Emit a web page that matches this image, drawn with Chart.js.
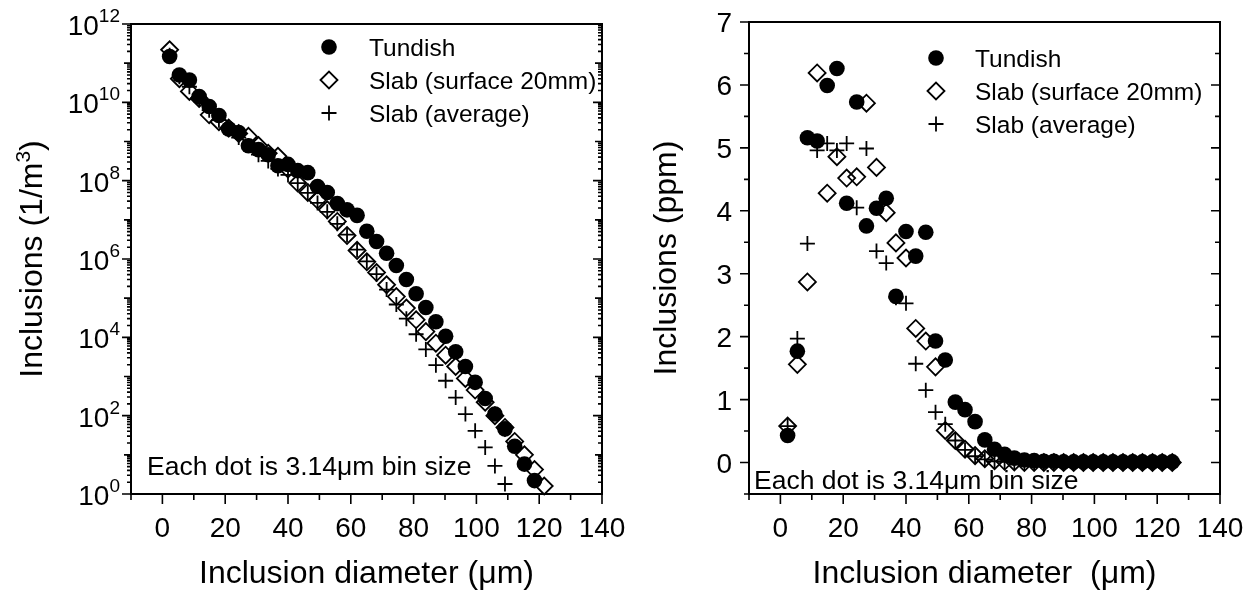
<!DOCTYPE html>
<html>
<head>
<meta charset="utf-8">
<script src="https://cdn.jsdelivr.net/npm/chart.js@4.4.1/dist/chart.umd.min.js"></script>
<style>
  html, body { margin: 0; padding: 0; background: #fff; }
  #wrap { position: relative; width: 1253px; height: 593px; overflow: hidden; background: #fff; }
  canvas { position: absolute; top: 0; }
  #cLeft { left: 0; }
  #cRight { left: 626px; }
</style>
</head>
<body>
<div id="wrap">
  <canvas id="cLeft" width="626" height="593"></canvas>
  <canvas id="cRight" width="627" height="593"></canvas>
</div>
<script>
// Bin-centre inclusion diameters (µm), 3.14 µm bins
const diameters = [2.3, 5.4, 8.6, 11.7, 14.9, 18.0, 21.1, 24.3, 27.4, 30.6,
  33.7, 36.8, 40.0, 43.1, 46.3, 49.4, 52.5, 55.7, 58.8, 62.0,
  65.1, 68.2, 71.4, 74.5, 77.7, 80.8, 83.9, 87.1, 90.2, 93.4,
  96.5, 99.6, 102.8, 105.9, 109.1, 112.2, 115.3, 118.5, 121.6, 124.8];

const seriesNames = ['Tundish', 'Slab (surface 20mm)', 'Slab (average)'];

// Number density per bin (1/m^3)
const tundishDensity = [1.48e11, 5.0e10, 3.7e10, 1.4e10, 7.8e9, 4.6e9, 2.1e9, 1.7e9, 7.8e8, 6.2e8,
  4.6e8, 2.4e8, 2.6e8, 1.8e8, 1.6e8, 7.1e7, 5.0e7, 2.6e7, 1.8e7, 1.3e7,
  5.1e6, 2.8e6, 1.4e6, 6.8e5, 3.0e5, 1.3e5, 5.8e4, 2.5e4, 1.07e4, 4.3e3,
  1.8e3, 710, 275, 110, 46, 16.6, 5.8, 2.2];
const slabSurfaceDensity = [2.2e11, 4.0e10, 1.9e10, 1.26e10, 4.8e9, 3.2e9, 2.2e9, 1.6e9, 1.35e9, 7.9e8,
  5.0e8, 4.2e8, 2.0e8, 8.7e7, 5.0e7, 3.2e7, 1.8e7, 9.1e6, 4.0e6, 1.66e6,
  8.5e5, 4.5e5, 2.2e5, 1.1e5, 5.6e4, 2.8e4, 1.4e4, 7.1e3, 3.5e3, 1.8e3,
  890, 450, 220, 100, 50, 22, 10, 4.2, 1.6];
const slabAverageDensity = [1.6e11, 4.5e10, 2.5e10, 1.26e10, 6.3e9, 3.5e9, 2.0e9, 1.26e9, 7.9e8, 4.6e8,
  3.2e8, 2.0e8, 1.4e8, 8.7e7, 4.9e7, 2.7e7, 1.6e7, 7.9e6, 4.2e6, 1.74e6,
  8.7e5, 4.1e5, 1.66e5, 6.9e4, 3.0e4, 1.2e4, 4.9e3, 1.95e3, 780, 290,
  110, 41, 15.5, 5.2, 1.8];

// Volume fraction per bin (ppm)
const tundishPpm = [0.43, 1.77, 5.16, 5.11, 5.99, 6.26, 4.12, 5.73, 3.76, 4.04,
  4.20, 2.64, 3.67, 3.28, 3.66, 1.93, 1.63, 0.96, 0.84, 0.65,
  0.36, 0.21, 0.13, 0.07, 0.04, 0.03, 0.02, 0.02, 0.01, 0.01,
  0.01, 0.01, 0.01, 0.01, 0.01, 0.01, 0.01, 0.01, 0.01, 0.01];
const slabSurfacePpm = [0.58, 1.56, 2.87, 6.19, 4.28, 4.86, 4.52, 4.54, 5.71, 4.69,
  3.97, 3.49, 3.25, 2.13, 1.93, 1.52, 0.51, 0.35, 0.21, 0.11,
  0.06, 0.03, 0.02, 0.01, 0, 0, 0, 0, 0, 0,
  0, 0, 0, 0, 0, 0, 0, 0, 0, 0];
const slabAveragePpm = [0.58, 1.97, 3.48, 4.96, 5.07, 4.96, 5.07, 4.05, 4.99, 3.36,
  3.17, 2.62, 2.53, 1.57, 1.15, 0.80, 0.61, 0.35, 0.20, 0.10,
  0.05, 0.02, 0.01, 0, 0, 0, 0, 0, 0, 0,
  0, 0, 0, 0, 0, 0, 0, 0, 0, 0];

// Axis ticks
const xMajorTicks = [0, 20, 40, 60, 80, 100, 120, 140];
const xMinorTicks = [-10, 10, 30, 50, 70, 90, 110, 130];
const logDecades = [0, 1, 2, 3, 4, 5, 6, 7, 8, 9, 10, 11, 12];
const logLabelExponents = [0, 2, 4, 6, 8, 10, 12];
const logMinorSteps = [2, 3, 4, 5, 6, 7, 8, 9];
const ppmMajorTicks = [0, 1, 2, 3, 4, 5, 6, 7];
const ppmMinorTicks = [-0.5, 0.5, 1.5, 2.5, 3.5, 4.5, 5.5, 6.5];

const FONT = '"Liberation Sans", Arial, Helvetica, sans-serif';
const f = px => px + 'px ' + FONT;
const TICK_FONT = 28;
const TITLE_FONT = 32;
const LEGEND_FONT = 24.5;
const NOTE_FONT = 26.5;

const markerStyles = [
  { pointStyle: 'circle', radius: 7.8, fill: '#000', border: 0 },
  { pointStyle: 'rectRot', radius: 8.5, fill: 'rgba(0,0,0,0)', border: 1.8 },
  { pointStyle: 'cross', radius: 7.5, fill: 'rgba(0,0,0,0)', border: 1.8 }
];

function makeDataset(i, values) {
  const m = markerStyles[i];
  return {
    label: seriesNames[i],
    data: values.map((v, k) => ({ x: diameters[k], y: v })),
    pointStyle: m.pointStyle,
    pointRadius: m.radius,
    pointHoverRadius: m.radius,
    pointBackgroundColor: m.fill,
    pointBorderColor: '#000',
    pointBorderWidth: m.border,
    showLine: false,
    clip: false
  };
}

function drawMarker(ctx, i, x, y) {
  const m = markerStyles[i];
  ctx.save();
  ctx.strokeStyle = '#000';
  ctx.fillStyle = '#000';
  ctx.lineWidth = m.border || 1;
  ctx.beginPath();
  if (m.pointStyle === 'circle') {
    ctx.arc(x, y, m.radius, 0, Math.PI * 2);
    ctx.fill();
  } else if (m.pointStyle === 'rectRot') {
    ctx.moveTo(x - m.radius, y); ctx.lineTo(x, y - m.radius);
    ctx.lineTo(x + m.radius, y); ctx.lineTo(x, y + m.radius);
    ctx.closePath(); ctx.stroke();
  } else {
    ctx.moveTo(x - m.radius, y); ctx.lineTo(x + m.radius, y);
    ctx.moveTo(x, y - m.radius); ctx.lineTo(x, y + m.radius);
    ctx.stroke();
  }
  ctx.restore();
}

// Draws box frame, tick marks, tick labels, titles, legend and note
function decorPlugin(cfg) {
  return {
    id: 'decor',
    beforeDatasetsDraw(chart) {
      const { ctx, chartArea: a, scales: { x, y } } = chart;
      ctx.save();
      ctx.strokeStyle = '#000';
      ctx.lineWidth = 2;
      ctx.strokeRect(a.left, a.top, a.right - a.left, a.bottom - a.top);
      ctx.lineWidth = 1.6;
      ctx.beginPath();
      cfg.xTicks.forEach(t => {
        const px = x.getPixelForValue(t.v);
        ctx.moveTo(px, a.bottom); ctx.lineTo(px, a.bottom + t.len);
      });
      cfg.yTicks.forEach(t => {
        const py = y.getPixelForValue(t.v);
        ctx.moveTo(a.left, py); ctx.lineTo(a.left - t.len, py);
        ctx.moveTo(a.right, py); ctx.lineTo(a.right - t.len, py);
      });
      ctx.stroke();
      ctx.restore();
    },
    afterDraw(chart) {
      const { ctx, chartArea: a, scales: { x, y } } = chart;
      ctx.save();
      ctx.fillStyle = '#000';
      ctx.textBaseline = 'alphabetic';

      // x tick labels
      ctx.font = f(TICK_FONT);
      ctx.textAlign = 'center';
      xMajorTicks.forEach(v => ctx.fillText(String(v), x.getPixelForValue(v), a.bottom + 43));

      // y tick labels
      cfg.drawYLabels(ctx, a, y);

      // x title
      ctx.font = f(TITLE_FONT);
      ctx.textAlign = 'center';
      ctx.fillText(cfg.xTitle, (a.left + a.right) / 2, 583);

      // y title (rotated)
      ctx.save();
      ctx.translate(cfg.yTitleX, (a.top + a.bottom) / 2);
      ctx.rotate(-Math.PI / 2);
      ctx.textAlign = 'left';
      const parts = cfg.yTitleParts;
      const widths = parts.map(p => { ctx.font = f(p.sup ? 21 : TITLE_FONT); return ctx.measureText(p.t).width; });
      let cx = -widths.reduce((s, w) => s + w, 0) / 2;
      parts.forEach((p, i) => {
        ctx.font = f(p.sup ? 21 : TITLE_FONT);
        ctx.fillText(p.t, cx, p.sup ? -1 : 11);
        cx += widths[i];
      });
      ctx.restore();

      // legend
      ctx.font = f(LEGEND_FONT);
      ctx.textAlign = 'left';
      seriesNames.forEach((name, i) => {
        const ly = cfg.legendY[i];
        drawMarker(ctx, i, cfg.legendMarkerX, ly);
        ctx.fillText(name, cfg.legendTextX, ly + 8.5);
      });

      // note
      ctx.font = f(NOTE_FONT);
      ctx.fillText('Each dot is 3.14\u03BCm bin size', cfg.noteX, cfg.noteY);
      ctx.restore();
    }
  };
}

function baseOptions(padRight, top, yWidth, xHeight, yScale) {
  return {
    responsive: false,
    animation: false,
    devicePixelRatio: 1,
    layout: { padding: { left: 0, top: top, right: padRight, bottom: 0 } },
    plugins: { legend: { display: false }, tooltip: { enabled: false } },
    events: [],
    scales: {
      x: {
        type: 'linear', min: -10, max: 140,
        grid: { display: false, drawTicks: false },
        border: { display: false },
        ticks: { display: false },
        afterFit(s) { s.height = xHeight; }
      },
      y: Object.assign({
        grid: { display: false, drawTicks: false },
        border: { display: false },
        ticks: { display: false },
        afterFit(s) { s.width = yWidth; }
      }, yScale)
    }
  };
}

const xTickSpecs = xMajorTicks.map(v => ({ v, len: 10 })).concat(xMinorTicks.map(v => ({ v, len: 6 })));

// ---- Left panel: number density, log scale ----
const logTickSpecs = [];
logDecades.forEach(e => {
  logTickSpecs.push({ v: Math.pow(10, e), len: e % 2 === 0 ? 9 : 7 });
  if (e < 12) logMinorSteps.forEach(m => logTickSpecs.push({ v: m * Math.pow(10, e), len: 4 }));
});

new Chart(document.getElementById('cLeft'), {
  type: 'scatter',
  data: { datasets: [makeDataset(0, tundishDensity), makeDataset(1, slabSurfaceDensity), makeDataset(2, slabAverageDensity)] },
  options: baseOptions(24, 24, 131, 99, { type: 'logarithmic', min: 1, max: 1e12 }),
  plugins: [decorPlugin({
    xTicks: xTickSpecs,
    yTicks: logTickSpecs,
    xTitle: 'Inclusion diameter (\u03BCm)',
    yTitleX: 31,
    yTitleParts: [{ t: 'Inclusions (1/m' }, { t: '3', sup: true }, { t: ')' }],
    legendY: [47, 80, 113],
    legendMarkerX: 329,
    legendTextX: 369,
    noteX: 147,
    noteY: 475,
    drawYLabels(ctx, a, y) {
      logLabelExponents.forEach(e => {
        const py = y.getPixelForValue(Math.pow(10, e));
        ctx.font = f(19);
        const ws = ctx.measureText(String(e)).width;
        ctx.font = f(TICK_FONT);
        const wb = ctx.measureText('10').width;
        const x0 = 120 - ws - wb;
        ctx.textAlign = 'left';
        ctx.fillText('10', x0, py + 11);
        ctx.font = f(19);
        ctx.fillText(String(e), x0 + wb, py - 2);
      });
    }
  })]
});

// ---- Right panel: volume fraction, linear scale ----
const ppmTickSpecs = ppmMajorTicks.map(v => ({ v, len: 9 })).concat(ppmMinorTicks.map(v => ({ v, len: 5 })));

new Chart(document.getElementById('cRight'), {
  type: 'scatter',
  data: { datasets: [makeDataset(0, tundishPpm), makeDataset(1, slabSurfacePpm), makeDataset(2, slabAveragePpm)] },
  options: baseOptions(33, 22, 123, 99, { type: 'linear', min: -0.5, max: 7 }),
  plugins: [decorPlugin({
    xTicks: xTickSpecs,
    yTicks: ppmTickSpecs,
    xTitle: 'Inclusion diameter  (\u03BCm)',
    yTitleX: 39,
    yTitleParts: [{ t: 'Inclusions (ppm)' }],
    legendY: [58, 91, 124],
    legendMarkerX: 310,
    legendTextX: 349,
    noteX: 128,
    noteY: 489,
    drawYLabels(ctx, a, y) {
      ctx.font = f(TICK_FONT);
      ctx.textAlign = 'right';
      ppmMajorTicks.forEach(v => ctx.fillText(String(v), 106, y.getPixelForValue(v) + 10));
    }
  })]
});
</script>
</body>
</html>
